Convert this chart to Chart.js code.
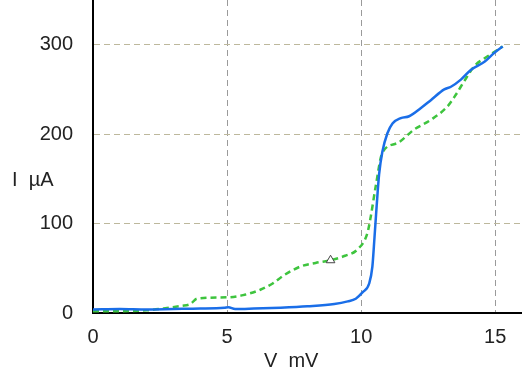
<!DOCTYPE html>
<html>
<head>
<meta charset="utf-8">
<script src="https://cdn.jsdelivr.net/npm/chart.js@4/dist/chart.umd.min.js"></script>
<style>
    html, body { margin: 0; padding: 0; background: #fff; }
    #wrap { width: 522px; height: 373px; }
</style>
</head>
<body>
<div id="wrap"><canvas id="iv_Chart"></canvas></div>
<script>
// solid blue curve
var blue_V = [0, 1, 2, 3, 4, 4.9, 5.05, 5.3, 6, 7, 8, 9, 9.5, 9.8, 10.05, 10.3, 10.42, 10.5, 10.58, 10.67, 10.79, 10.98, 11.17, 11.48, 11.79, 12.22, 12.6, 13.1, 13.35, 13.72, 14.1, 14.6, 14.97, 15.28];
var blue_I = [4, 4.5, 4, 4.5, 5, 6, 6.5, 4.5, 5, 6, 7.5, 10, 13, 16, 23, 33, 52, 85, 120, 155, 180, 201, 212, 218, 220, 229, 238, 250, 253, 261, 272, 281, 291, 298];

// dashed green curve
var green_V = [0, 1, 2, 2.63, 3.3, 3.63, 3.88, 5, 5.6, 6.24, 6.7, 7.11, 7.74, 8.3, 8.86, 9.4, 9.86, 10.23, 10.36, 10.54, 10.79, 11.35, 11.97, 12.6, 13.22, 13.53, 13.84, 14.22, 14.72, 15.28];
var green_I = [2, 2, 3, 5, 8, 10, 16, 17.5, 20, 26, 33, 42, 52, 56, 59, 64, 71, 89, 108, 141, 179, 190, 205, 216, 231, 244, 259, 276, 287, 298];

// triangle marker
var marker_V = [8.86];
var marker_I = [59];

var x_Ticks = [0, 5, 10, 15];
var y_Ticks = [0, 100, 200, 300];

var labelFont = { family: "Liberation Sans, Arial, sans-serif", size: 20 };
var textColor = "#222";

function toPoints(xs, ys) {
    var pts = [];
    for (var i = 0; i < xs.length; i++) {
        pts.push({ x: xs[i], y: ys[i] });
    }
    return pts;
}

function keepTicks(list) {
    return function (scale) {
        scale.ticks = list.map(function (v) { return { value: v }; });
    };
}

//axis titles drawn flat, like the original
var axisTitles = {
    id: "axisTitles",
    afterDraw: function (chart) {
        var ctx = chart.ctx;
        ctx.save();
        ctx.fillStyle = textColor;
        ctx.font = labelFont.size + "px " + labelFont.family;
        ctx.textBaseline = "middle";
        ctx.textAlign = "left";
        ctx.fillText("I  \u00b5A", 12, 180);
        ctx.fillText("V  mV", 264, 361);
        ctx.restore();
    }
};

var ctxP = document.getElementById("iv_Chart").getContext("2d");

var iv_Chart = new Chart(ctxP, {
    type: "line",
    data: {
        datasets: [{
            data: toPoints(green_V, green_I),
            borderColor: "#3ec43e",
            borderWidth: 2.5,
            borderDash: [6, 4],
            pointRadius: 0,
            cubicInterpolationMode: "monotone",
            fill: false,
            order: 3
        }, {
            data: toPoints(blue_V, blue_I),
            borderColor: "#1a6ee8",
            borderWidth: 2.5,
            pointRadius: 0,
            cubicInterpolationMode: "monotone",
            fill: false,
            order: 2
        }, {
            data: toPoints(marker_V, marker_I),
            showLine: false,
            pointStyle: "triangle",
            pointRadius: 5,
            pointBackgroundColor: "#fff",
            pointBorderColor: "#444",
            pointBorderWidth: 1,
            order: 1
        }]
    },
    options: {
        responsive: true,
        maintainAspectRatio: false,
        animation: false,
        layout: { padding: 0, autoPadding: false },
        plugins: {
            legend: { display: false },
            tooltip: { enabled: false }
        },
        scales: {
            x: {
                type: "linear",
                min: 0,
                max: 16,
                afterBuildTicks: keepTicks(x_Ticks),
                afterFit: function (scale) {
                    scale.height = 60;
                    scale.paddingLeft = 0;
                    scale.paddingRight = 0;
                },
                grid: {
                    drawTicks: false,
                    color: function (c) { return c.tick && c.tick.value === 0 ? "rgba(0,0,0,0)" : "#9a9a9a"; },
                    lineWidth: 1
                },
                border: { color: "#000", width: 2, dash: [6, 4] },
                ticks: { color: textColor, font: labelFont, padding: 12, maxRotation: 0 }
            },
            y: {
                min: 0,
                max: 350,
                afterBuildTicks: keepTicks(y_Ticks),
                afterFit: function (scale) {
                    scale.width = 93;
                    scale.paddingTop = 0;
                    scale.paddingBottom = 0;
                },
                grid: {
                    drawTicks: false,
                    color: function (c) { return c.tick && c.tick.value === 0 ? "rgba(0,0,0,0)" : "#bdb89c"; },
                    lineWidth: 1
                },
                border: { color: "#000", width: 2, dash: [6, 4] },
                ticks: { color: textColor, font: labelFont, padding: 20 }
            }
        }
    },
    plugins: [axisTitles]
});
</script>
</body>
</html>
